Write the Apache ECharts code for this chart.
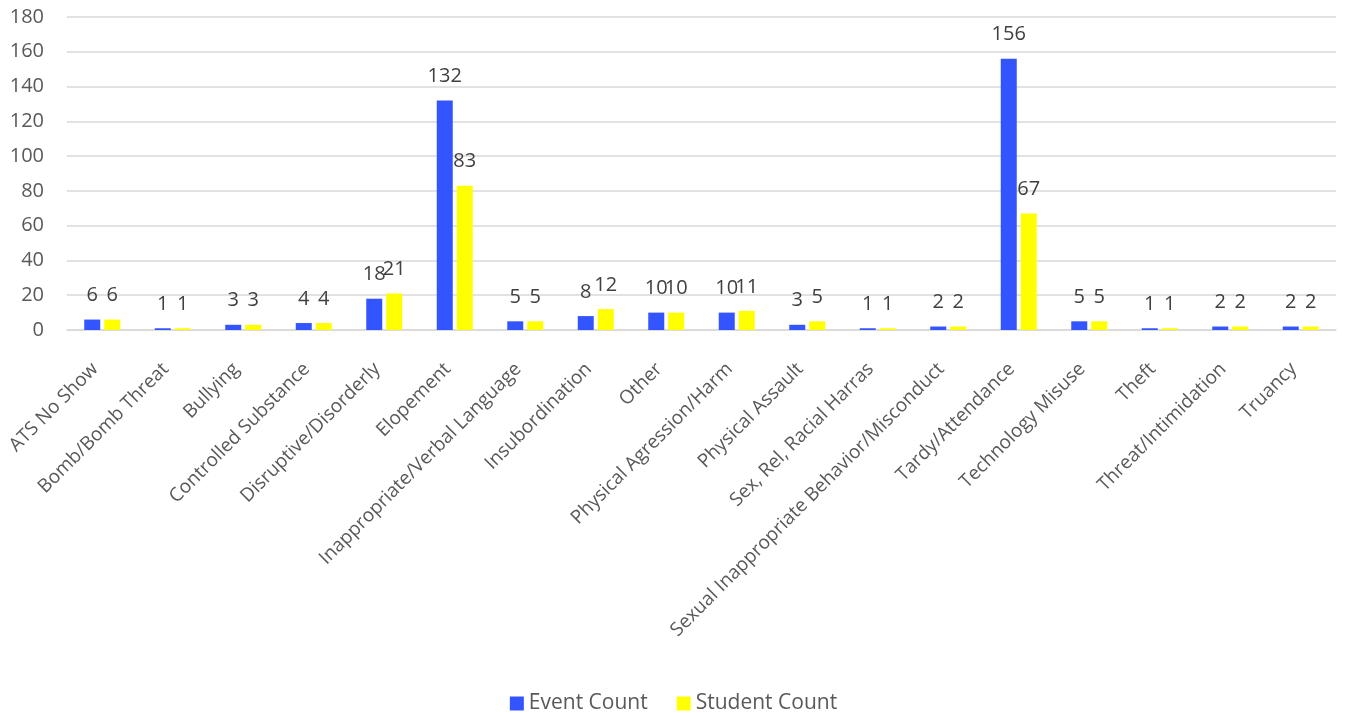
<!DOCTYPE html>
<html><head><meta charset="utf-8">
<script src="https://cdn.jsdelivr.net/npm/echarts@6/dist/echarts.min.js"></script>
<style>html,body{margin:0;padding:0;background:#fff}#c{width:1347px;height:716px}</style>
</head><body><div id="c"></div>
<script>
const categories = ["ATS No Show","Bomb/Bomb Threat","Bullying","Controlled Substance","Disruptive/Disorderly","Elopement","Inappropriate/Verbal Language","Insubordination","Other","Physical Agression/Harm","Physical Assault","Sex, Rel, Racial Harras","Sexual Inappropriate Behavior/Misconduct","Tardy/Attendance","Technology Misuse","Theft","Threat/Intimidation","Truancy"];
const eventCount = [6,1,3,4,18,132,5,8,10,10,3,1,2,156,5,1,2,2];
const studentCount = [6,1,3,4,21,83,5,12,10,11,5,1,2,67,5,1,2,2];
const yTicks = {min:0, max:180, interval:20};

const chart = echarts.init(document.getElementById('c'));
const font = "'Open Sans', 'Noto Sans', sans-serif";
const lbl = {show:true, position:'top', distance:14, color:'#404040', fontSize:20, fontFamily:font};
chart.setOption({
  animation:false,
  grid:{left:67, right:11, top:17, bottom:386, containLabel:false},
  legend:{bottom:-3, left:'center', itemWidth:14, itemHeight:14, itemGap:29, icon:'rect',
    textStyle:{color:'#595959', fontSize:21, fontFamily:font}},
  xAxis:{type:'category', data:categories,
    axisLine:{lineStyle:{color:'#d9d9d9', width:1.5}}, axisTick:{show:false},
    axisLabel:{rotate:45, interval:0, color:'#595959', fontSize:19, fontFamily:font, margin:29, padding:[0,10,0,0]}},
  yAxis:{type:'value', min:yTicks.min, max:yTicks.max, interval:yTicks.interval,
    axisLine:{show:false}, axisTick:{show:false},
    splitLine:{lineStyle:{color:'#d9d9d9', width:1.5}},
    axisLabel:{color:'#595959', fontSize:20, fontFamily:font, margin:23}},
  series:[
    {name:'Event Count', type:'bar', data:eventCount, barWidth:16, barGap:'25%',
      itemStyle:{color:'#3355ff'}, label:lbl},
    {name:'Student Count', type:'bar', data:studentCount, barWidth:16,
      itemStyle:{color:'#ffff00'}, label:lbl}
  ]
});
</script></body></html>
